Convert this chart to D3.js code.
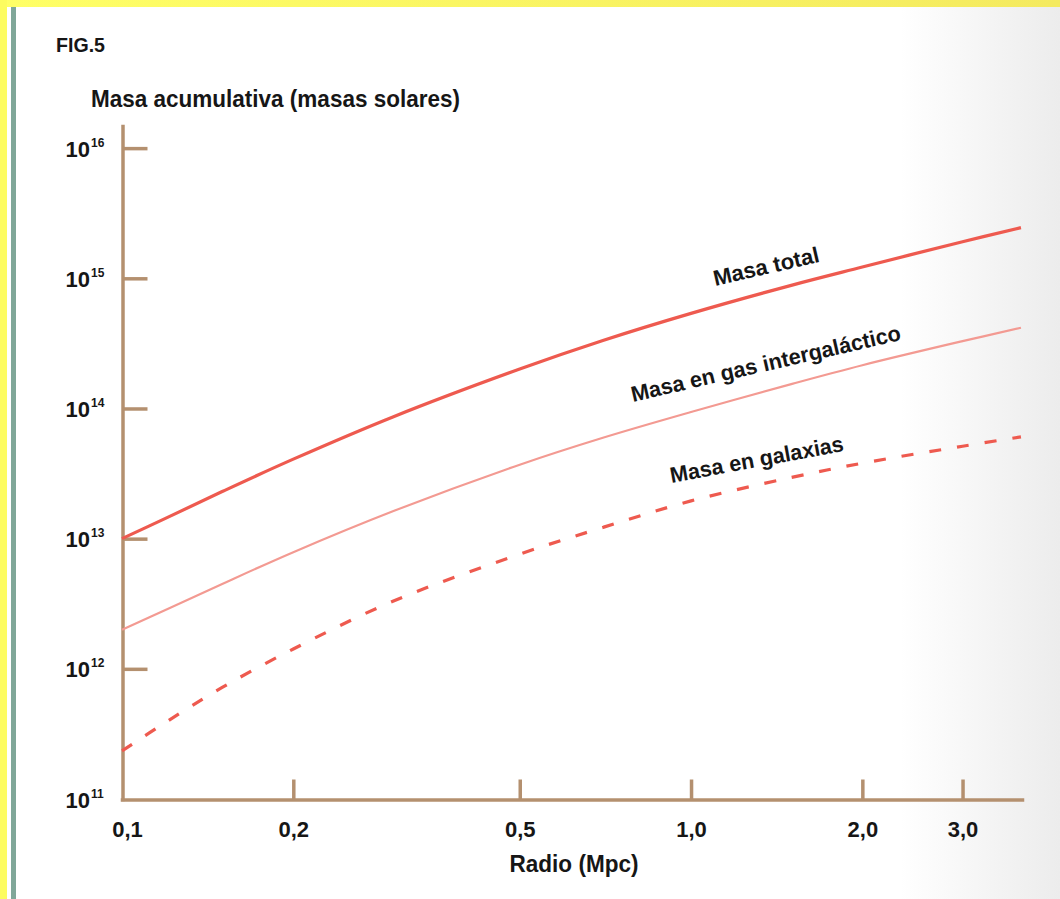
<!DOCTYPE html>
<html><head><meta charset="utf-8">
<script src="https://cdn.jsdelivr.net/npm/d3@7"></script>
<style>
body{margin:0;background:#fff}
svg{display:block}
text{font-family:"Liberation Sans",Arial,Helvetica,sans-serif;fill:#161616}
</style>
</head><body>
<svg id="c" width="1060" height="899"></svg>
<script>
// ---- data ----
const radius       = [0.1, 0.12, 0.15, 0.2, 0.3, 0.5, 0.7, 1.0, 1.5, 2.0, 3.0, 3.8];
const masaTotal    = [1.0e13, 1.45e13, 2.30e13, 4.08e13, 8.65e13, 2.01e14, 3.33e14, 5.38e14, 8.83e14, 1.22e15, 1.91e15, 2.45e15];
const masaGas      = [2.0e12, 2.87e12, 4.49e12, 7.87e12, 1.63e13, 3.70e13, 5.96e13, 9.4e13, 1.54e14, 2.15e14, 3.29e14, 4.17e14];
const masaGalaxias = [2.34e11, 3.94e11, 7.2e11, 1.42e12, 3.32e12, 7.6e12, 1.22e13, 1.95e13, 2.95e13, 3.80e13, 5.13e13, 6.05e13];
const xTickValues  = [0.1, 0.2, 0.5, 1.0, 2.0, 3.0];
const yTickExponents = [11, 12, 13, 14, 15, 16];
const figLabel = "FIG.5";
const yTitle = "Masa acumulativa (masas solares)";
const xTitle = "Radio (Mpc)";
const seriesNames = ["Masa total", "Masa en gas intergaláctico", "Masa en galaxias"];

// ---- layout / style ----
const W = 1060, H = 899;
const axisColor = "#b4906f";
const red = "#ee5a4f";
const svg = d3.select("#c");
const defs = svg.append("defs");
const g1 = defs.append("linearGradient").attr("id","bgfade").attr("x1",0).attr("x2",1).attr("y1",0).attr("y2",0);
g1.append("stop").attr("offset","0%").attr("stop-color","#ffffff");
g1.append("stop").attr("offset","100%").attr("stop-color","#ececec");
const g2 = defs.append("linearGradient").attr("id","yellow").attr("x1",0).attr("x2",1).attr("y1",0).attr("y2",0);
g2.append("stop").attr("offset","0%").attr("stop-color","#ffff66");
g2.append("stop").attr("offset","100%").attr("stop-color","#f4ea5f");

svg.append("rect").attr("width",W).attr("height",H).attr("fill","#fff");
svg.append("rect").attr("x",900).attr("width",W-900).attr("height",H).attr("fill","url(#bgfade)");
svg.append("rect").attr("width",W).attr("height",7).attr("fill","url(#yellow)");
svg.append("rect").attr("width",7).attr("height",H).attr("fill","#fdfc5f");
svg.append("rect").attr("x",11).attr("y",7).attr("width",5).attr("height",H-7).attr("fill","#80a799");

// scales
const x = d3.scaleLog().domain([0.1, 3.816]).range([122, 1022]);
const y = d3.scaleLog().domain([1e11, Math.pow(10, 16.17)]).range([799, 126]);

// texts
svg.append("text").attr("x",56).attr("y",52).attr("font-size",21).attr("font-weight","bold")
  .attr("textLength",49).attr("lengthAdjust","spacingAndGlyphs").text(figLabel);
svg.append("text").attr("x",91).attr("y",107).attr("font-size",24).attr("font-weight","bold")
  .attr("textLength",369).attr("lengthAdjust","spacingAndGlyphs").text(yTitle);
svg.append("text").attr("x",574).attr("y",872).attr("text-anchor","middle").attr("font-size",24).attr("font-weight","bold")
  .attr("textLength",129).attr("lengthAdjust","spacingAndGlyphs").text(xTitle);

// y axis
const yAxis = d3.axisLeft(y)
  .tickValues(yTickExponents.map(e => Math.pow(10, e)))
  .tickSizeInner(-25).tickSizeOuter(0).tickPadding(0)
  .tickFormat(() => "");
const gY = svg.append("g").attr("transform","translate(122.5,0)").call(yAxis);
gY.select(".domain").attr("stroke",axisColor).attr("stroke-width",3.5).attr("stroke-linecap","square");
gY.selectAll(".tick line").attr("stroke",axisColor).attr("stroke-width",3.5);
gY.selectAll(".tick text").each(function(d, i){
  const t = d3.select(this);
  t.text(null).attr("dy",null).attr("x",-57).attr("y",8).attr("text-anchor","start")
   .attr("font-weight","bold").attr("fill","#161616");
  t.append("tspan").attr("font-size",22).text("10");
  t.append("tspan").attr("font-size",12).attr("dy",-10).attr("dx",1).text(String(yTickExponents[i]));
});

// x axis
const fmt = d3.format(".1f");
const xAxis = d3.axisBottom(x)
  .tickValues(xTickValues)
  .tickSizeInner(-20).tickSizeOuter(0).tickPadding(22)
  .tickFormat(d => fmt(d).replace(".", ","));
const gX = svg.append("g").attr("transform","translate(0,799.5)").call(xAxis);
gX.select(".domain").attr("stroke",axisColor).attr("stroke-width",3.5).attr("stroke-linecap","square");
gX.selectAll(".tick line").attr("stroke",axisColor).attr("stroke-width",3.5);
gX.selectAll(".tick text").attr("font-size",22).attr("font-weight","bold").attr("fill","#161616")
  .attr("font-family",null)
  .attr("dx", d => d === 0.1 ? 5 : 0);
gX.select(".tick line").attr("opacity", 0);
gY.selectAll(".tick").filter(d => d === 1e11).select("line").attr("opacity",0);

// lines
const line = d3.line().x(d => x(d[0])).y(d => y(d[1])).curve(d3.curveCatmullRom.alpha(0.5));
const series = [
  {vals: masaTotal, stroke: red, width: 3.2, dash: null},
  {vals: masaGas, stroke: "#f39a92", width: 2.2, dash: null},
  {vals: masaGalaxias, stroke: red, width: 3.2, dash: "12 16"}
];
svg.append("g").selectAll("path").data(series).join("path")
  .attr("d", s => line(radius.map((r, i) => [r, s.vals[i]])))
  .attr("fill","none").attr("stroke", s => s.stroke).attr("stroke-width", s => s.width)
  .attr("stroke-dasharray", s => s.dash);

// series labels
const labelLayout = [
  {cx: 766, cy: 266, angle: -13, len: 108, dy: 8},
  {cx: 766, cy: 365, angle: -13, len: 276, dy: 6},
  {cx: 757, cy: 461, angle: -10.5, len: 176, dy: 6}
];
svg.append("g").selectAll("text").data(seriesNames).join("text")
  .attr("transform", (d, i) => `translate(${labelLayout[i].cx},${labelLayout[i].cy}) rotate(${labelLayout[i].angle})`)
  .attr("y", (d, i) => labelLayout[i].dy)
  .attr("text-anchor","middle").attr("font-size",22).attr("font-weight","bold")
  .attr("textLength", (d, i) => labelLayout[i].len).attr("lengthAdjust","spacingAndGlyphs")
  .text(d => d);
</script>
</body></html>
